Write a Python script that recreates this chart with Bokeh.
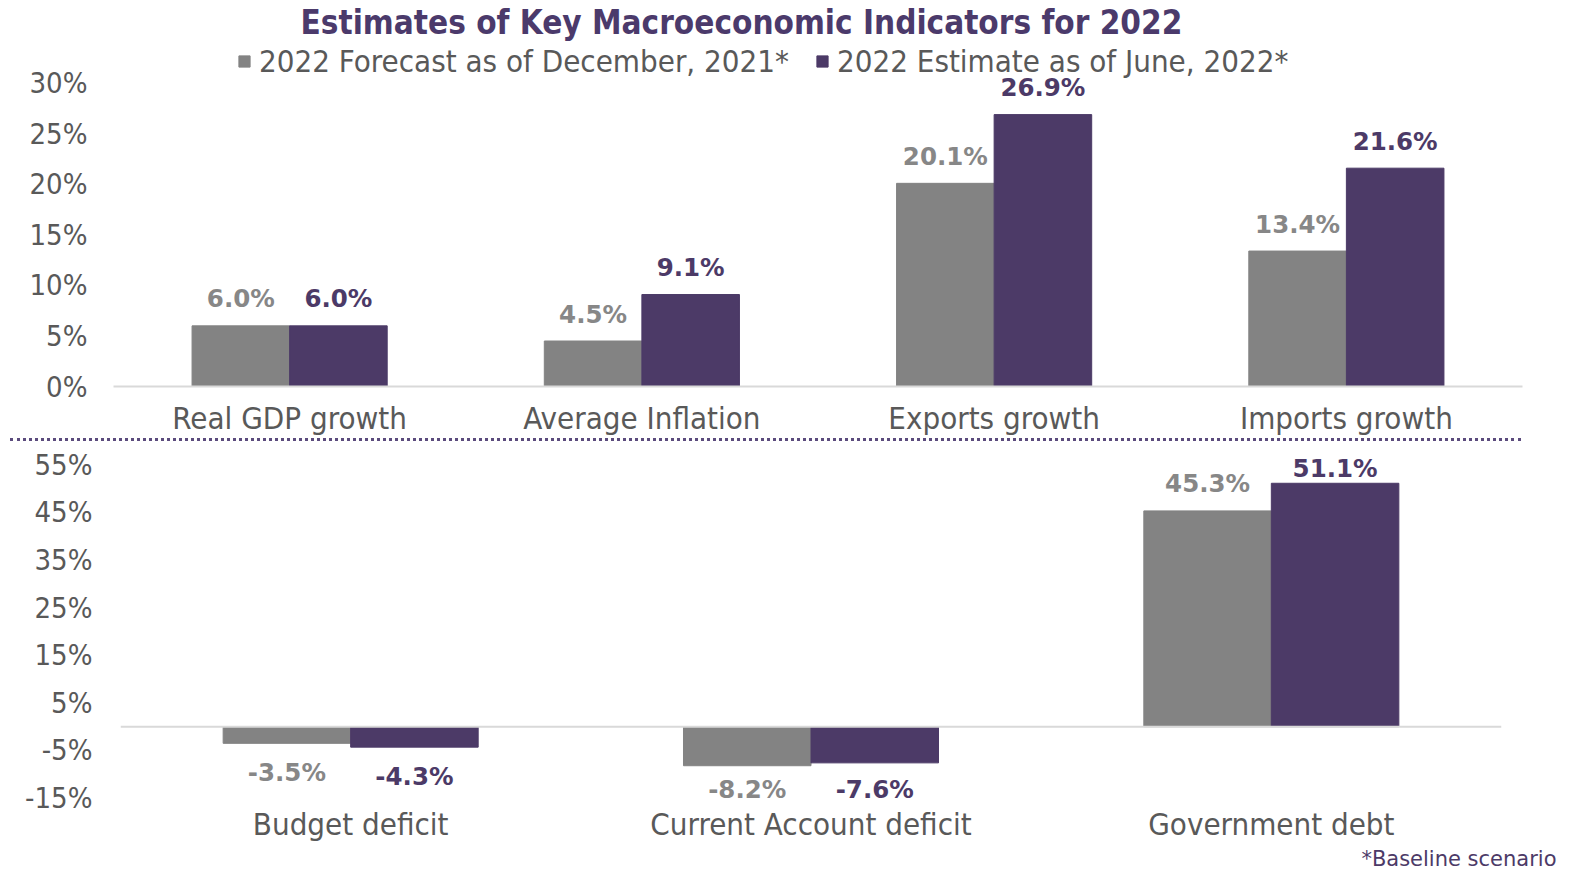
from bokeh.plotting import figure
from bokeh.models import (ColumnDataSource, FactorRange, LabelSet, Legend, LegendItem, Title,
                          FixedTicker, PrintfTickFormatter, Span, Div)
from bokeh.transform import dodge
from bokeh.core.properties import value
from bokeh.embed import file_html
from bokeh.resources import INLINE

# ---------------- data ----------------
top_categories = ["Real GDP growth", "Average Inflation", "Exports growth", "Imports growth"]
top_forecast = [6.0, 4.5, 20.1, 13.4]
top_estimate = [6.0, 9.1, 26.9, 21.6]
top_ticks = [0, 5, 10, 15, 20, 25, 30]

bottom_categories = ["Budget deficit", "Current Account deficit", "Government debt"]
bottom_forecast = [-3.5, -8.2, 45.3]
bottom_estimate = [-4.3, -7.6, 51.1]
bottom_ticks = [-15, -5, 5, 15, 25, 35, 45, 55]

series_names = ["2022 Forecast as of December, 2021*", "2022 Estimate as of June, 2022*"]
title_text = "Estimates of Key Macroeconomic Indicators for 2022"
footnote_text = "*Baseline scenario"

# ---------------- style ----------------
GRAY = "#838383"
PURPLE = "#4c3a67"
GRAY_LBL = "#878787"
TICK_CLR = "#595959"
COND = "DejaVu Sans Condensed"
BW = 0.277
OFF = 0.1385

TOP_FRAME_H = 346          # frame 40 .. 386
TOP_Y = (0, TOP_FRAME_H / 10.137)
BOT_FRAME_H = 362          # frame 442 .. 804
BOT_Y = (-16.34, 59.66)


def make_src(cats, vals, yr, px_per):
    offs = []
    for v in vals:
        if v >= 0:
            offs.append(min(27, (yr[1] - v) * px_per - 26))
        else:
            offs.append(-min(29.5, (v - yr[0]) * px_per - 15))
    return ColumnDataSource(dict(cat=cats, val=vals,
                                 txt=["%.1f%%" % v for v in vals], off=offs))


def style(p, ticks, standoff_y, standoff_x):
    p.outline_line_color = None
    p.xgrid.grid_line_color = None
    p.ygrid.grid_line_color = None
    p.yaxis.ticker = FixedTicker(ticks=ticks)
    p.yaxis.formatter = PrintfTickFormatter(format="%d%%")
    p.yaxis.axis_line_color = None
    p.yaxis.major_tick_line_color = None
    p.yaxis.minor_tick_line_color = None
    p.yaxis.major_tick_out = 0
    p.yaxis.major_label_standoff = standoff_y
    p.yaxis.major_label_text_font = COND
    p.yaxis.major_label_text_font_size = "29px"
    p.yaxis.major_label_text_color = TICK_CLR
    p.xaxis.major_tick_line_color = None
    p.xaxis.minor_tick_line_color = None
    p.xaxis.major_tick_out = 0
    p.xaxis.major_label_standoff = standoff_x
    p.xaxis.major_label_text_font = COND
    p.xaxis.major_label_text_font_size = "31px"
    p.xaxis.major_label_text_color = TICK_CLR


def add_bars(p, cats, fvals, evals, yr, frame_h):
    px_per = frame_h / (yr[1] - yr[0])
    fs = make_src(cats, fvals, yr, px_per)
    es = make_src(cats, evals, yr, px_per)
    r1 = p.vbar(x=dodge("cat", -OFF, range=p.x_range), top="val", width=BW, source=fs,
                fill_color=GRAY, line_color=GRAY)
    r2 = p.vbar(x=dodge("cat", OFF, range=p.x_range), top="val", width=BW, source=es,
                fill_color=PURPLE, line_color=PURPLE)
    for src, o, c in ((fs, -OFF, GRAY_LBL), (es, OFF, PURPLE)):
        p.add_layout(LabelSet(x=dodge("cat", o, range=p.x_range), y="val", text="txt",
                              y_offset="off", source=src, text_align="center",
                              text_baseline="middle", text_font=value("DejaVu Sans"),
                              text_font_style="bold", text_font_size="24.5px", text_color=c))
    return r1, r2


# ---------------- top figure ----------------
top = figure(width=1579, height=438, x_range=FactorRange(*top_categories), y_range=TOP_Y,
             output_backend="svg", toolbar_location=None, title=None,
             min_border_left=113, min_border_right=57, min_border_top=40, min_border_bottom=52)
style(top, top_ticks, 26, 13)
top.xaxis.axis_line_color = "#d9d9d9"
top.xaxis.axis_line_width = 2
r1, r2 = add_bars(top, top_categories, top_forecast, top_estimate, TOP_Y, TOP_FRAME_H)

legend = Legend(items=[LegendItem(label=series_names[0], renderers=[r1]),
                       LegendItem(label=series_names[1], renderers=[r2])],
                orientation="horizontal", location=(124, 307),
                glyph_width=14, glyph_height=14, label_standoff=8, spacing=26,
                padding=0, margin=0, label_height=30,
                label_text_font=COND, label_text_font_size="31px",
                label_text_color=TICK_CLR, border_line_color=None,
                background_fill_alpha=0)
top.add_layout(legend)
top.add_layout(Title(text=title_text, align="left", offset=187, standoff=0,
                     text_font=COND, text_font_style="bold", text_font_size="33px",
                     text_color="#4b3a6b"), "above")

# ---------------- dotted separator ----------------
sep = Div(text="", width=1511, height=4, margin=(0, 0, 0, 10),
          styles={"border-top": "3px dotted #5b4b7d", "box-sizing": "border-box"})

# ---------------- bottom figure ----------------
bot = figure(width=1579, height=428, x_range=FactorRange(*bottom_categories), y_range=BOT_Y,
             output_backend="svg", toolbar_location=None, title=None,
             min_border_left=120, min_border_right=78, min_border_top=0, min_border_bottom=66)
style(bot, bottom_ticks, 28, 1)
bot.xaxis.axis_line_color = None
bot.add_layout(Span(location=0, dimension="width", line_color="#d9d9d9", line_width=2))
add_bars(bot, bottom_categories, bottom_forecast, bottom_estimate, BOT_Y, BOT_FRAME_H)
bot.add_layout(Title(text=footnote_text, align="right", offset=-55, standoff=0,
                     text_font="DejaVu Sans", text_font_style="normal", text_font_size="21px",
                     text_color=PURPLE), "below")

open("out.html", "w").write(file_html([top, sep, bot], INLINE))
